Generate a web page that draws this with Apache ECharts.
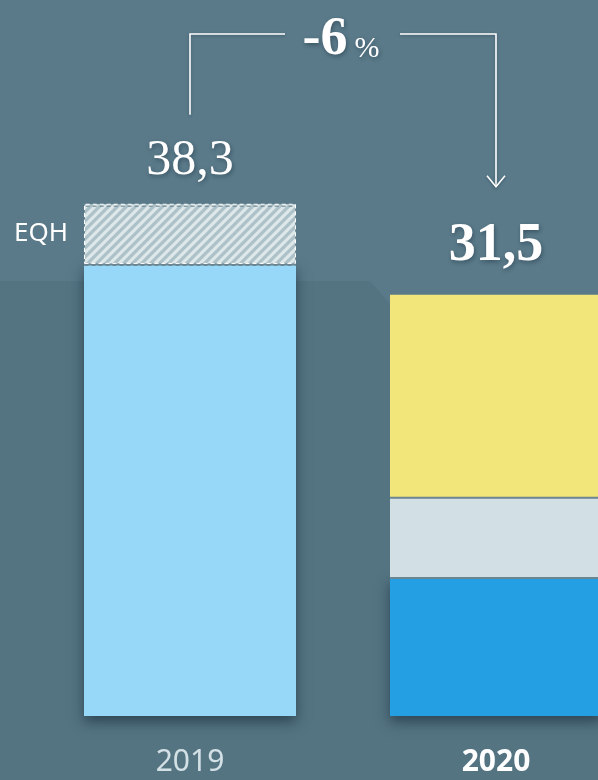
<!DOCTYPE html>
<html>
<head>
<meta charset="utf-8">
<script src="https://cdn.jsdelivr.net/npm/echarts@6/dist/echarts.min.js"></script>
<style>
html, body { margin: 0; padding: 0; background: #5a7a89; }
#main { width: 598px; height: 780px; }
</style>
</head>
<body>
<div id="main"></div>
<script>
// data
var years = ['2019', '2020'];
var totals = [38.3, 31.5];
var baseVals = [33.8, 10.4];   // 2019 light blue, 2020 blue
var midVals = [4.5, 6.0];      // 2019 EQH (hatched), 2020 grey
var topVals = ['-', 15.1];     // 2020 yellow
var change = '-6';
var midName = 'EQH';

function fmt(v) { return v.toFixed(1).replace('.', ','); }

// diagonal hatch for EQH
function hatch() {
    var c = document.createElement('canvas');
    c.width = 9; c.height = 9;
    var ctx = c.getContext('2d');
    ctx.fillStyle = '#dde8ea';
    ctx.fillRect(0, 0, 9, 9);
    ctx.strokeStyle = '#adc2c8';
    ctx.lineWidth = 3.2;
    ctx.beginPath();
    ctx.moveTo(0, 9); ctx.lineTo(9, 0);
    ctx.moveTo(-2, 2); ctx.lineTo(2, -2);
    ctx.moveTo(7, 11); ctx.lineTo(11, 7);
    ctx.stroke();
    return c;
}

var serif = '"Liberation Serif", "DejaVu Serif", serif';
var sans = '"Noto Sans", "Open Sans", sans-serif';
var txtShadow = { textShadowColor: 'rgba(20,40,55,0.45)', textShadowBlur: 4, textShadowOffsetX: 1, textShadowOffsetY: 2 };
var sepShadow = { shadowColor: '#6b8591', shadowBlur: 0, shadowOffsetY: 2 };

var chart = echarts.init(document.getElementById('main'));
var option = {
    backgroundColor: '#5a7a89',
    animation: false,
    grid: { left: 37, width: 612, top: 181, bottom: 64, containLabel: false, outerBoundsMode: 'none' },
    xAxis: {
        type: 'category',
        data: years,
        axisLine: { show: false },
        axisTick: { show: false },
        axisLabel: {
            margin: 31,
            formatter: function (v) { return v === years[1] ? '{b|' + v + '}' : '{a|' + v + '}'; },
            rich: {
                a: { color: '#d3e0e5', fontSize: 30, fontFamily: sans },
                b: { color: '#ffffff', fontSize: 30, fontFamily: sans, fontWeight: 'bold' }
            }
        }
    },
    yAxis: { type: 'value', min: 0, max: 40, show: false },
    series: [
        {
            name: 'base', type: 'bar', stack: 't', barWidth: 212,
            itemStyle: { shadowColor: 'rgba(25,45,60,0.65)', shadowBlur: 12, shadowOffsetY: 6 },
            data: baseVals.map(function (v, i) {
                return { value: v, itemStyle: { color: i ? '#259fe4' : '#97d8f8' } };
            })
        },
        {
            name: 'mid', type: 'bar', stack: 't', barWidth: 212,
            itemStyle: sepShadow,
            data: [
                {
                    value: midVals[0],
                    itemStyle: { color: { image: hatch(), repeat: 'repeat' }, borderColor: '#ffffff', borderType: [4, 3], borderWidth: 1 },
                    label: { show: true, position: 'left', distance: 16, formatter: midName, color: '#ffffff', fontSize: 26, fontFamily: sans }
                },
                { value: midVals[1], itemStyle: { color: '#d2e0e5' } }
            ]
        },
        {
            name: 'top', type: 'bar', stack: 't', barWidth: 212,
            itemStyle: Object.assign({ color: '#f2e57a' }, sepShadow),
            data: topVals
        },
        {
            name: 'total', type: 'bar', barWidth: 212, barGap: '-100%', silent: true,
            itemStyle: { color: 'rgba(0,0,0,0)' },
            data: totals.map(function (v, i) {
                return {
                    value: v,
                    label: Object.assign({
                        show: true, position: 'top', distance: i ? 22 : 18,
                        formatter: fmt(v), color: '#ffffff',
                        fontFamily: serif, fontSize: i ? 54 : 50, fontWeight: i ? 'bold' : 'normal'
                    }, txtShadow)
                };
            })
        }
    ]
};
chart.setOption(option);

// bracket with arrow from 2019 total to 2020 total
var p1 = chart.convertToPixel({ gridIndex: 0 }, [0, totals[0]]);
var p2 = chart.convertToPixel({ gridIndex: 0 }, [1, totals[1]]);
var topY = 34;
var midX = (p1[0] + p2[0]) / 2;
var lineStyle = { stroke: '#ffffff', lineWidth: 1.6, fill: null, shadowColor: 'rgba(20,40,55,0.4)', shadowBlur: 3, shadowOffsetY: 1 };
chart.setOption({
    graphic: [
        {
            type: 'polygon', z: -10, silent: true,
            shape: { points: [[0, 281], [370, 281], [392, 306], [598, 306], [598, 780], [0, 780]] },
            style: { fill: 'rgba(40,70,80,0.12)' }
        },
        {
            type: 'polyline', silent: true,
            shape: { points: [[p1[0], p1[1] - 89], [p1[0], topY], [midX - 58, topY]] },
            style: lineStyle
        },
        {
            type: 'polyline', silent: true,
            shape: { points: [[midX + 57, topY], [p2[0], topY], [p2[0], p2[1] - 108]] },
            style: lineStyle
        },
        {
            type: 'polyline', silent: true,
            shape: { points: [[p2[0] - 9, p2[1] - 119], [p2[0], p2[1] - 108], [p2[0] + 9, p2[1] - 119]] },
            style: lineStyle
        },
        {
            type: 'text', silent: true,
            x: midX - 2, y: topY + 6,
            style: Object.assign({
                text: '{a|' + change + '}{b|%}',
                align: 'center', verticalAlign: 'middle',
                rich: {
                    a: { fontFamily: serif, fontWeight: 'bold', fontSize: 54, fill: '#ffffff', verticalAlign: 'bottom' },
                    b: { fontFamily: serif, fontSize: 30, fill: '#ffffff', verticalAlign: 'bottom', padding: [0, 0, 3, 7] }
                }
            }, txtShadow)
        }
    ]
});
</script>
</body>
</html>
